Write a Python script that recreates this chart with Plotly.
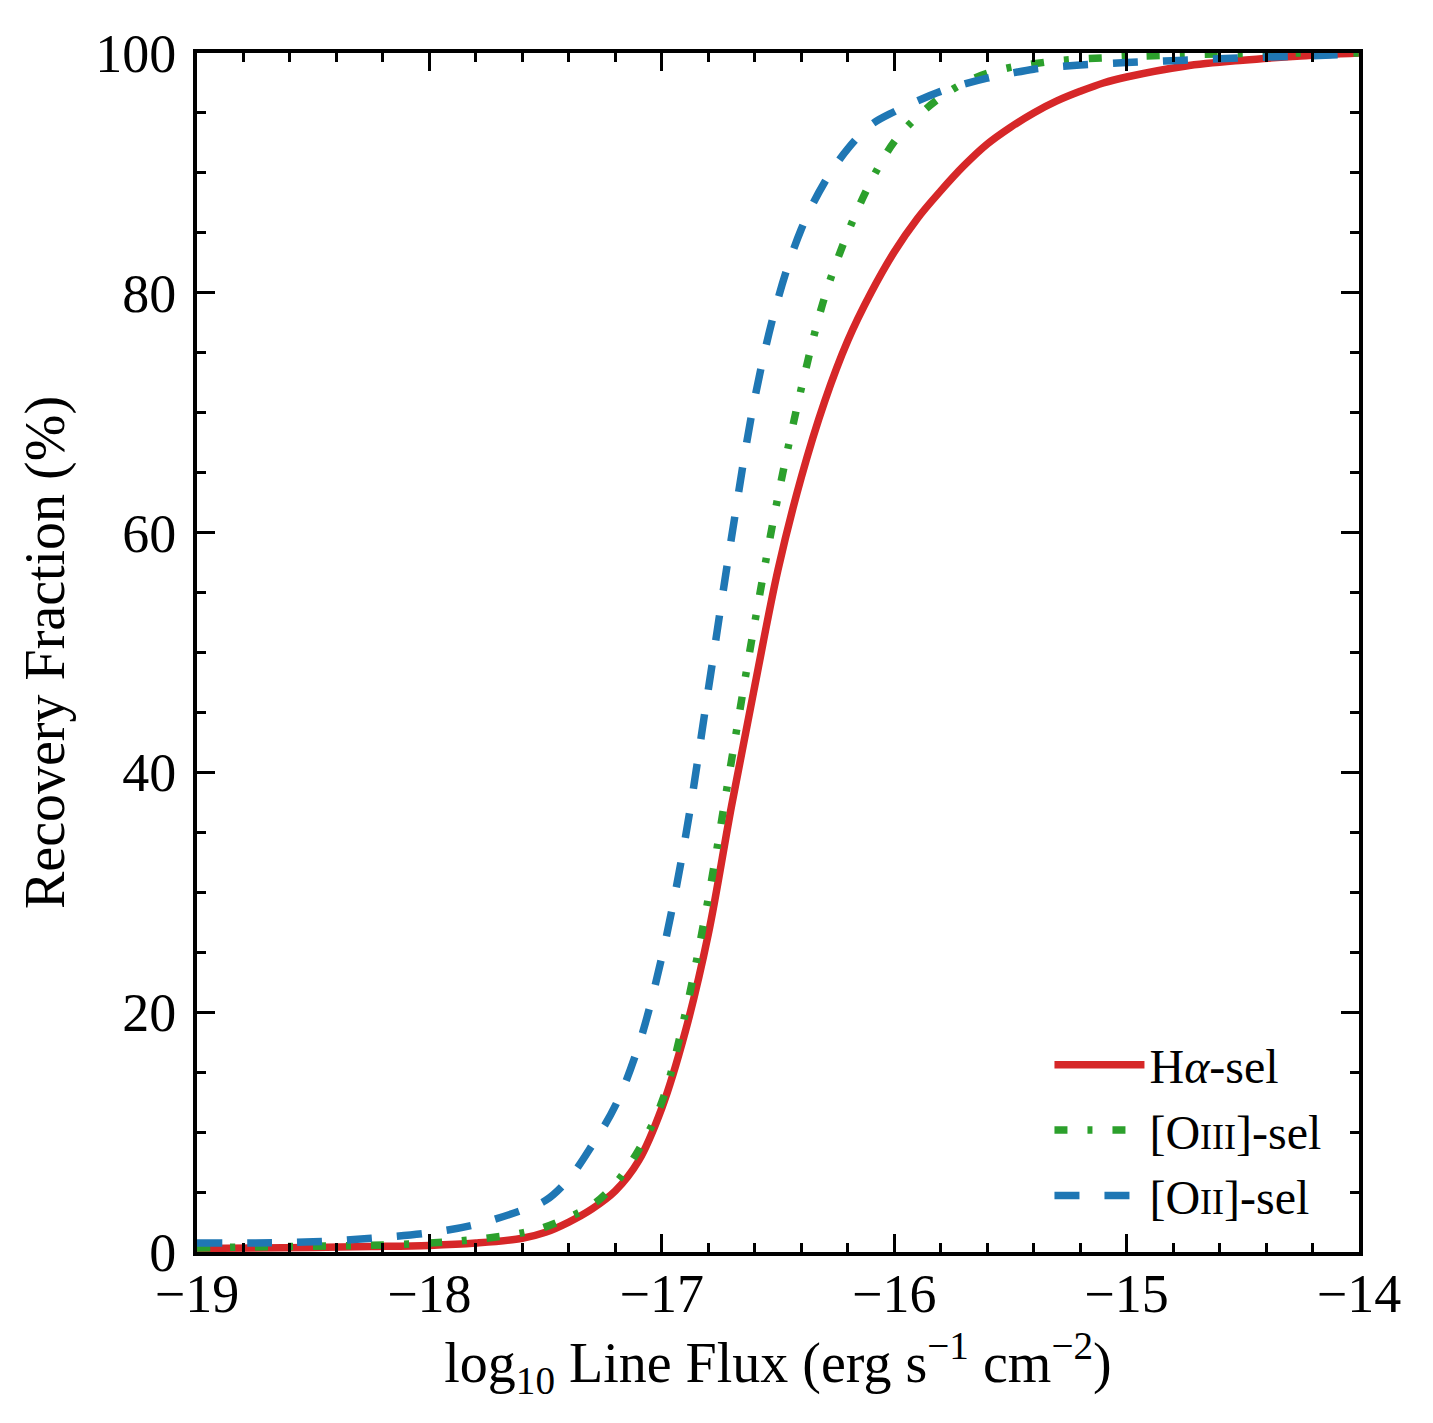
import plotly.graph_objects as go

# log10 line flux grid (shared by all three curves)
flux = [-19.0, -18.75, -18.5, -18.25, -18.0, -17.8, -17.6, -17.5, -17.4, -17.3,
        -17.2, -17.1, -17.0, -16.9, -16.8, -16.7, -16.6, -16.5, -16.4, -16.3,
        -16.2, -16.1, -16.0, -15.9, -15.8, -15.7, -15.6, -15.5, -15.4, -15.3,
        -15.2, -15.1, -15.0, -14.75, -14.5, -14.25, -14.0]

# recovery fraction (%)
ha_sel = [0.3, 0.33, 0.38, 0.45, 0.55, 0.75, 1.15, 1.65, 2.5, 3.6,
          5.1, 7.6, 12.0, 18.3, 26.5, 37.2, 47.2, 56.9, 64.6, 70.9,
          76.0, 80.0, 83.4, 86.2, 88.5, 90.6, 92.4, 93.8, 95.0, 96.0,
          96.8, 97.5, 98.0, 98.9, 99.4, 99.75, 100.0]
oiii_sel = [0.34, 0.42, 0.48, 0.56, 0.75, 1.05, 1.6, 2.1, 2.9, 3.9,
            5.7, 8.5, 12.5, 19.8, 29.5, 41.0, 52.5, 63.0, 72.0, 79.6,
            85.0, 89.3, 92.6, 94.7, 96.3, 97.5, 98.3, 98.8, 99.1, 99.35,
            99.5, 99.6, 99.7, 99.85, 99.95, 100.0, 100.0]
oii_sel = [0.75, 0.75, 0.85, 1.15, 1.6, 2.3, 3.5, 4.3, 6.1, 8.9,
           12.2, 17.2, 24.6, 34.4, 46.9, 59.6, 71.2, 79.5, 85.3, 89.2,
           92.0, 94.0, 95.1, 96.0, 96.8, 97.4, 97.9, 98.3, 98.65, 98.85,
           99.0, 99.1, 99.2, 99.4, 99.6, 99.75, 99.9]

FONT = "Liberation Serif"
SMALLCAP = "<span style='font-size:36px'>{}</span>"

fig = go.Figure()
fig.add_trace(go.Scatter(x=flux, y=ha_sel, mode="lines", name="H<i>α</i>-sel",
                         line=dict(color="#d62728", width=7.5, shape="spline")))
fig.add_trace(go.Scatter(x=flux, y=oiii_sel, mode="lines",
                         name="[O" + SMALLCAP.format("III") + "]-sel",
                         line=dict(color="#2ca02c", width=7.5, shape="spline",
                                   dash="13px,20px,5px,20px")))
fig.add_trace(go.Scatter(x=flux, y=oii_sel, mode="lines",
                         name="[O" + SMALLCAP.format("II") + "]-sel",
                         line=dict(color="#1f77b4", width=7.5, shape="spline",
                                   dash="25px,25px")))

axis_common = dict(
    showgrid=False, zeroline=False, showline=True, linecolor="black", linewidth=4,
    mirror="allticks", ticks="inside", ticklen=18, tickwidth=3, tickcolor="black",
    tickfont=dict(family=FONT, size=54, color="black"),
)

fig.update_xaxes(
    range=[-19, -14], dtick=1, tick0=-19, ticklabelstandoff=-9,
    minor=dict(dtick=0.2, ticks="inside", ticklen=9, tickwidth=2.5, tickcolor="black"),
    title=dict(text="log<sub>10</sub> Line Flux (erg s<sup>−1</sup> cm<sup>−2</sup>)",
               font=dict(family=FONT, size=56, color="black"), standoff=0),
    **axis_common,
)
fig.update_yaxes(
    range=[0, 100], dtick=20, ticklabelstandoff=6,
    minor=dict(dtick=5, ticks="inside", ticklen=9, tickwidth=2.5, tickcolor="black"),
    title=dict(text="Recovery Fraction (%)",
               font=dict(family=FONT, size=56, color="black"), standoff=14),
    **axis_common,
)

fig.update_layout(
    width=1433, height=1423,
    margin=dict(l=189, r=82, t=45, b=179),
    paper_bgcolor="white", plot_bgcolor="white",
    legend=dict(x=0.972, y=0.015, xanchor="right", yanchor="bottom",
                bgcolor="rgba(0,0,0,0)", itemwidth=90, tracegroupgap=0,
                font=dict(family=FONT, size=48, color="black")),
)

fig.write_html("out.html")
